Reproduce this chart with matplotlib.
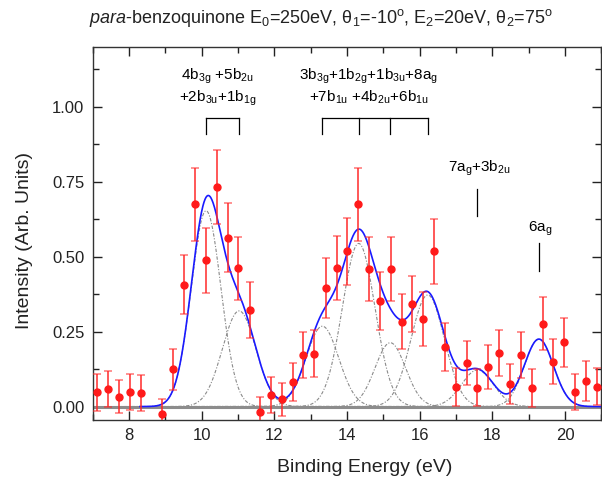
import numpy as np
import matplotlib
matplotlib.use("Agg")
import matplotlib.pyplot as plt
from matplotlib.ticker import MultipleLocator, FormatStrFormatter

plt.rcParams['font.family'] = ['Liberation Sans', 'DejaVu Sans']
plt.rcParams['mathtext.fontset'] = 'custom'
plt.rcParams['mathtext.rm'] = 'Liberation Sans'
plt.rcParams['mathtext.it'] = 'Liberation Sans:italic'
plt.rcParams['mathtext.sf'] = 'Liberation Sans'

# ---- data ----
energy = [7.12, 7.42, 7.73, 8.02, 8.32, 8.91, 9.22, 9.52, 9.81, 10.11, 10.42, 10.71,
          11.01, 11.32, 11.61, 11.91, 12.20, 12.50, 12.80, 13.10, 13.41, 13.71, 14.00,
          14.30, 14.60, 14.90, 15.20, 15.50, 15.80, 16.10, 16.39, 16.70, 17.00, 17.29,
          17.59, 17.89, 18.18, 18.48, 18.78, 19.08, 19.38, 19.68, 19.97, 20.27, 20.58, 20.88]
intensity = [0.047, 0.059, 0.033, 0.049, 0.044, -0.026, 0.124, 0.407, 0.674, 0.488, 0.733, 0.563,
             0.461, 0.321, -0.019, 0.037, 0.024, 0.083, 0.172, 0.176, 0.395, 0.462, 0.518,
             0.674, 0.458, 0.352, 0.458, 0.283, 0.343, 0.292, 0.518, 0.199, 0.064, 0.146,
             0.063, 0.132, 0.178, 0.076, 0.172, 0.063, 0.277, 0.149, 0.215, 0.048, 0.086, 0.066]
error = [0.061, 0.061, 0.056, 0.060, 0.060, 0.050, 0.069, 0.099, 0.123, 0.108, 0.123, 0.115,
         0.104, 0.093, 0.050, 0.060, 0.056, 0.064, 0.078, 0.078, 0.099, 0.106, 0.111,
         0.121, 0.106, 0.097, 0.107, 0.091, 0.094, 0.089, 0.109, 0.080, 0.063, 0.073,
         0.061, 0.074, 0.076, 0.066, 0.076, 0.063, 0.089, 0.075, 0.082, 0.059, 0.066, 0.061]

peak_centers = [10.12, 11.03, 13.32, 14.32, 15.19, 16.22, 17.59, 19.28]
peak_heights = [0.653, 0.319, 0.268, 0.544, 0.213, 0.372, 0.122, 0.225]
peak_sigmas = [0.41, 0.46, 0.45, 0.45, 0.42, 0.46, 0.44, 0.40]

group_labels = [r'4b$_{\mathrm{3g}}$ +5b$_{\mathrm{2u}}$',
                r'+2b$_{\mathrm{3u}}$+1b$_{\mathrm{1g}}$',
                r'3b$_{\mathrm{3g}}$+1b$_{\mathrm{2g}}$+1b$_{\mathrm{3u}}$+8a$_{\mathrm{g}}$',
                r'+7b$_{\mathrm{1u}}$ +4b$_{\mathrm{2u}}$+6b$_{\mathrm{1u}}$',
                r'7a$_{\mathrm{g}}$+3b$_{\mathrm{2u}}$',
                r'6a$_{\mathrm{g}}$']

title = (r'$\mathit{para}$-benzoquinone E$_{\mathrm{0}}$=250eV, θ$_{\mathrm{1}}$=-10$^{\mathrm{o}}$, '
         r'E$_{\mathrm{2}}$=20eV, θ$_{\mathrm{2}}$=75$^{\mathrm{o}}$')

# ---- figure ----
fig = plt.figure(figsize=(6.02, 4.79), dpi=100)
ax = fig.add_axes([0.154, 0.123, 0.845, 0.7795])

xg = np.linspace(7, 21, 1400)
comps = [h * np.exp(-(xg - c) ** 2 / (2 * s ** 2))
         for c, h, s in zip(peak_centers, peak_heights, peak_sigmas)]
for comp in comps:
    ax.plot(xg, comp, color='#8a8a8a', lw=0.8, dashes=(3, 1.5, 1, 1.5), zorder=1)
ax.axhline(0, color='#8c8c8c', lw=2.2, zorder=2)
total = np.sum(comps, axis=0)
mask = xg >= 8.3
ax.plot(xg[mask], total[mask], color='#1a1aff', lw=1.2, zorder=3)

eb = ax.errorbar(energy, intensity, yerr=error, fmt='o', color='#ff1a1a', ms=5,
                 ecolor='#ff2a2a', elinewidth=1.1, capsize=3.2, capthick=1.1, zorder=4)
for cl in eb[1]:
    cl.set_alpha(0.65)

# brackets
def bracket(xs, top=0.963, bot=0.91):
    ax.plot([xs[0], xs[-1]], [top, top], color='black', lw=0.9, zorder=5)
    for xv in xs:
        ax.plot([xv, xv], [bot, top], color='black', lw=0.9, zorder=5)

bracket(peak_centers[0:2])
bracket(peak_centers[2:6])
ax.plot([peak_centers[6]] * 2, [0.634, 0.727], color='black', lw=0.9)
ax.plot([peak_centers[7]] * 2, [0.453, 0.546], color='black', lw=0.9)

fs = 11
ax.text(10.42, 1.091, group_labels[0], ha='center', va='baseline', fontsize=fs)
ax.text(10.44, 1.016, group_labels[1], ha='center', va='baseline', fontsize=fs)
ax.text(14.60, 1.091, group_labels[2], ha='center', va='baseline', fontsize=fs)
ax.text(14.60, 1.016, group_labels[3], ha='center', va='baseline', fontsize=fs)
ax.text(17.64, 0.783, group_labels[4], ha='center', va='baseline', fontsize=fs)
ax.text(19.31, 0.583, group_labels[5], ha='center', va='baseline', fontsize=fs)

ax.set_xlim(7, 21)
ax.set_ylim(-0.045, 1.2)
ax.xaxis.set_major_locator(MultipleLocator(2))
ax.xaxis.set_minor_locator(MultipleLocator(1))
ax.yaxis.set_major_locator(MultipleLocator(0.25))
ax.yaxis.set_minor_locator(MultipleLocator(0.125))
ax.yaxis.set_major_formatter(FormatStrFormatter('%.2f'))
ax.tick_params(which='both', direction='in', top=True, right=True, colors='#222222',
               labelcolor='#222222')
ax.tick_params(which='major', length=6.5, width=1, labelsize=12, pad=6)
ax.tick_params(which='minor', length=4, width=1)
for sp in ax.spines.values():
    sp.set_color('#333333')
    sp.set_linewidth(1)

ax.set_xlabel('Binding Energy (eV)', fontsize=14, color='#222222')
ax.set_ylabel('Intensity (Arb. Units)', fontsize=14, color='#222222')
ax.xaxis.set_label_coords(0.535, -0.105)
ax.yaxis.set_label_coords(-0.117, 0.482)

fig.text(0.533, 0.962, title, ha='center', va='center', fontsize=13, color='#222222')

fig.savefig('out.png', dpi=100)
